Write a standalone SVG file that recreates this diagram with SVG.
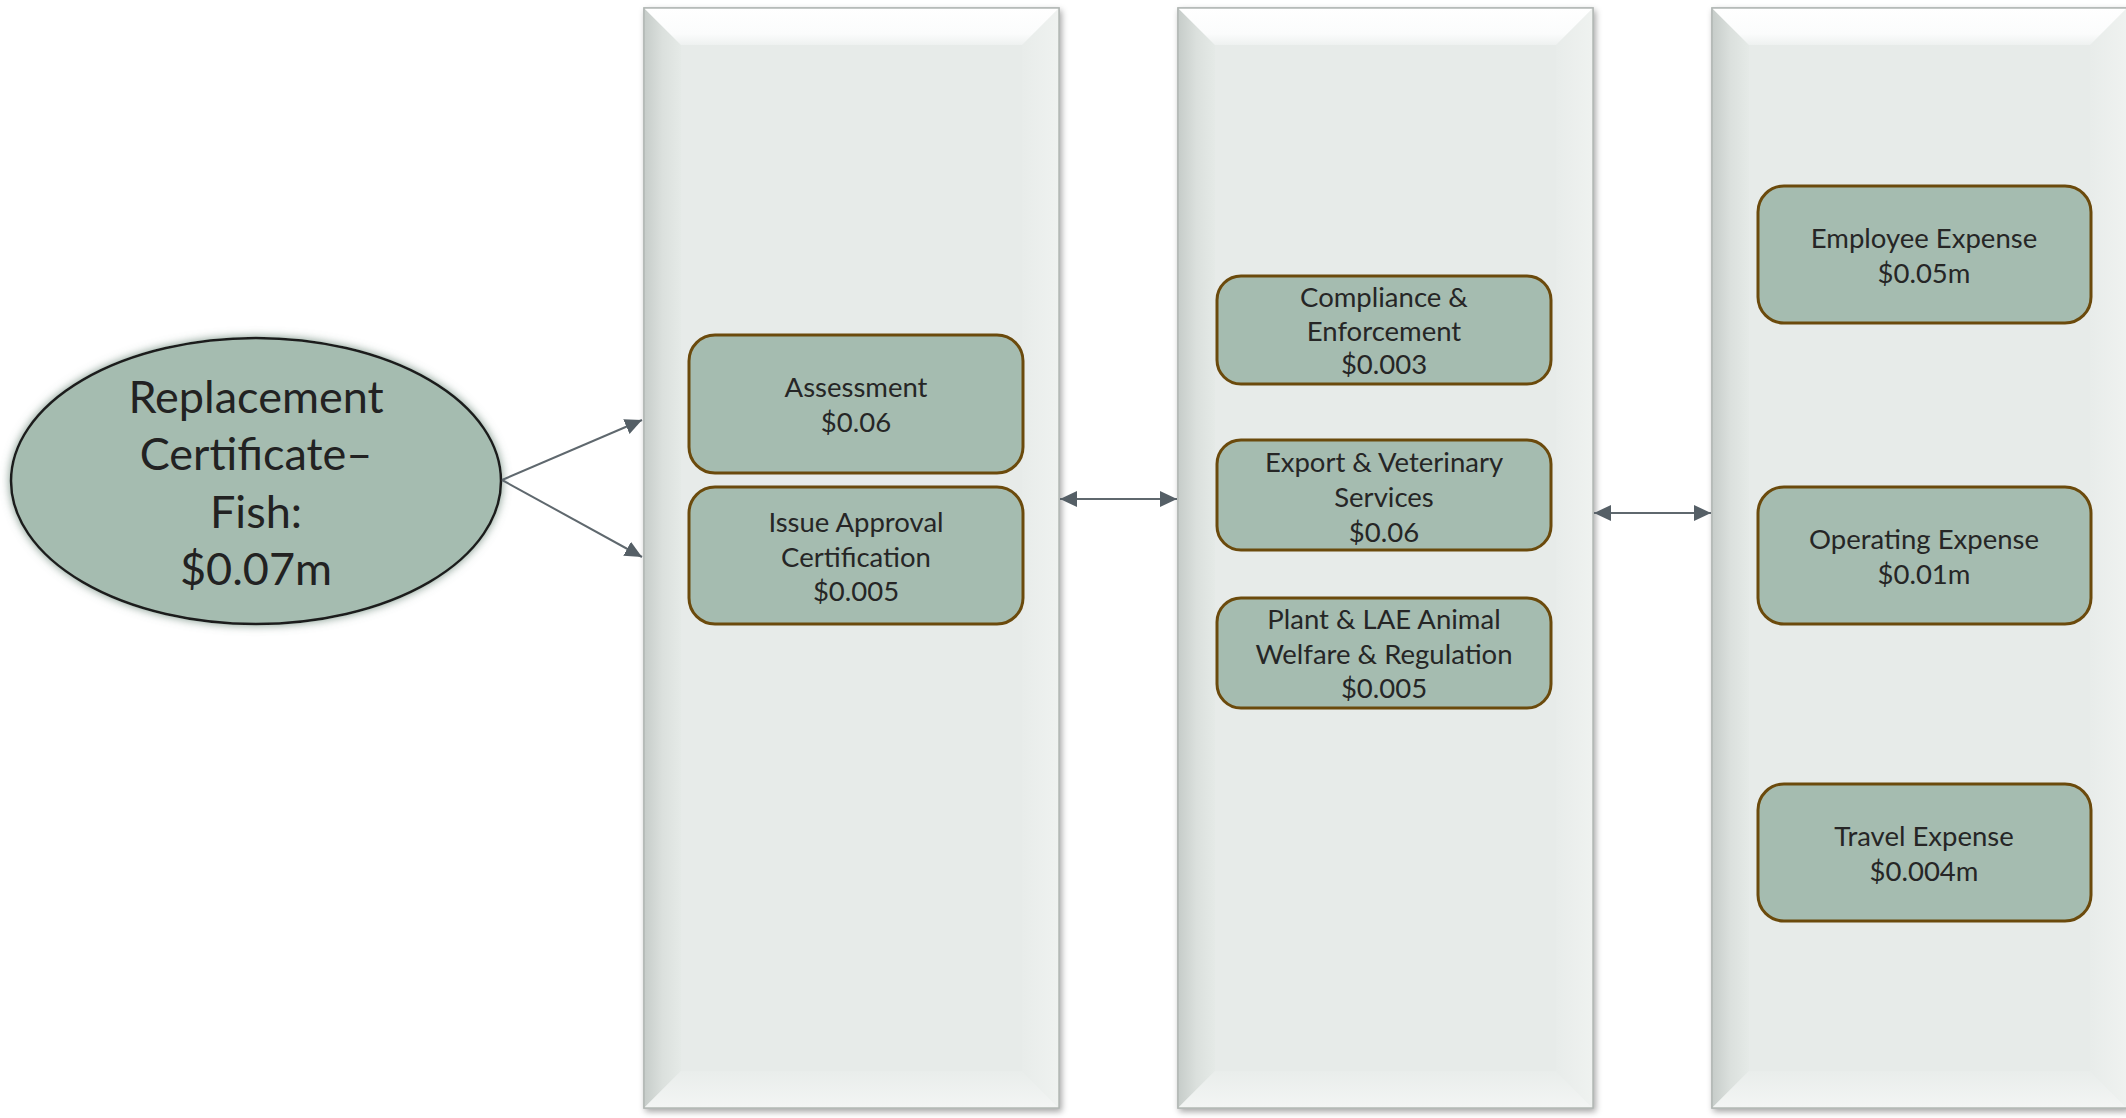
<svg xmlns="http://www.w3.org/2000/svg" width="2126" height="1118" viewBox="0 0 2126 1118">
<style>
.box{fill:#a5bcb0;stroke:#6b4a0c;stroke-width:3}
.t{font-family:Lato,"Open Sans",sans-serif;font-size:27.5px;fill:#262626;text-anchor:middle}
.big{font-family:Lato,"Open Sans",sans-serif;font-size:45px;fill:#222;text-anchor:middle}
.conn{stroke:#5f686e;stroke-width:2;fill:none}
</style>
<defs>
<marker id="ah" markerUnits="userSpaceOnUse" markerWidth="20" markerHeight="20" refX="17" refY="8" orient="auto-start-reverse">
<path d="M0,0 L17,8 L0,16 Z" fill="#555f66"/>
</marker>
<linearGradient id="gTop" x1="0" y1="0" x2="0" y2="1">
<stop offset="0" stop-color="#ffffff"/><stop offset="0.7" stop-color="#fbfcfc"/><stop offset="1" stop-color="#eef1f0"/>
</linearGradient>
<linearGradient id="gLeft" x1="0" y1="0" x2="1" y2="0">
<stop offset="0" stop-color="#c6ccc9"/><stop offset="0.5" stop-color="#dbe0dd"/><stop offset="1" stop-color="#e5eae7"/>
</linearGradient>
<linearGradient id="gRight" x1="0" y1="0" x2="1" y2="0">
<stop offset="0" stop-color="#e8ecea"/><stop offset="1" stop-color="#eff2f0"/>
</linearGradient>
<linearGradient id="gBot" x1="0" y1="0" x2="0" y2="1">
<stop offset="0" stop-color="#e9edeb"/><stop offset="1" stop-color="#f3f5f4"/>
</linearGradient>
<filter id="sh" x="-5%" y="-5%" width="110%" height="110%">
<feDropShadow dx="2" dy="3" stdDeviation="3" flood-color="#000" flood-opacity="0.35"/>
</filter>
<filter id="glow" x="-10%" y="-10%" width="120%" height="120%">
<feDropShadow dx="0" dy="0" stdDeviation="5" flood-color="#6f8a7d" flood-opacity="0.9"/>
</filter>
<g id="panel">
<rect x="0" y="0" width="415" height="1100" fill="#e7ebe9" stroke="#b3b8b5" stroke-width="1.5" filter="url(#sh)"/>
<polygon points="0,0 37,37 37,1063 0,1100" fill="url(#gLeft)"/>
<polygon points="415,0 378,37 378,1063 415,1100" fill="url(#gRight)"/>
<polygon points="0,1100 37,1063 378,1063 415,1100" fill="url(#gBot)"/>
<polygon points="0,0 415,0 378,37 37,37" fill="url(#gTop)"/>
<rect x="0" y="0" width="415" height="1100" fill="none" stroke="#b3b8b5" stroke-width="1.5"/>
</g>
</defs>
<rect width="2126" height="1118" fill="#ffffff"/>

<use id="panel1" href="#panel" x="644" y="8"/>
<use id="panel2" href="#panel" x="1178" y="8"/>
<use id="panel3" href="#panel" x="1712" y="8"/>

<g id="source">
<ellipse cx="256" cy="481" rx="245" ry="143" fill="#a5bcb0" stroke="#1e1e1e" stroke-width="2.5" filter="url(#glow)"/>
<text class="big" x="256" y="413">Replacement</text>
<text class="big" x="256" y="470">Certificate–</text>
<text class="big" x="256" y="528">Fish:</text>
<text class="big" x="256" y="585">$0.07m</text>
</g>

<g id="assessment">
<rect class="box" x="689" y="335" width="334" height="138" rx="26"/>
<text class="t" x="856" y="397">Assessment</text>
<text class="t" x="856" y="432">$0.06</text>
</g>
<g id="issue-approval">
<rect class="box" x="689" y="487" width="334" height="137" rx="26"/>
<text class="t" x="856" y="532">Issue Approval</text>
<text class="t" x="856" y="567">Certification</text>
<text class="t" x="856" y="601">$0.005</text>
</g>

<g id="compliance">
<rect class="box" x="1217" y="276" width="334" height="108" rx="24"/>
<text class="t" x="1384" y="307">Compliance &amp;</text>
<text class="t" x="1384" y="341">Enforcement</text>
<text class="t" x="1384" y="374">$0.003</text>
</g>
<g id="export">
<rect class="box" x="1217" y="440" width="334" height="110" rx="24"/>
<text class="t" x="1384" y="472">Export &amp; Veterinary</text>
<text class="t" x="1384" y="507">Services</text>
<text class="t" x="1384" y="542">$0.06</text>
</g>
<g id="plant">
<rect class="box" x="1217" y="598" width="334" height="110" rx="24"/>
<text class="t" x="1384" y="629">Plant &amp; LAE Animal</text>
<text class="t" x="1384" y="664">Welfare &amp; Regulation</text>
<text class="t" x="1384" y="698">$0.005</text>
</g>

<g id="employee">
<rect class="box" x="1758" y="186" width="333" height="137" rx="26"/>
<text class="t" x="1924" y="248">Employee Expense</text>
<text class="t" x="1924" y="283">$0.05m</text>
</g>
<g id="operating">
<rect class="box" x="1758" y="487" width="333" height="137" rx="26"/>
<text class="t" x="1924" y="549">Operating Expense</text>
<text class="t" x="1924" y="584">$0.01m</text>
</g>
<g id="travel">
<rect class="box" x="1758" y="784" width="333" height="137" rx="26"/>
<text class="t" x="1924" y="846">Travel Expense</text>
<text class="t" x="1924" y="881">$0.004m</text>
</g>

<g id="connectors">
<line class="conn" x1="502" y1="480" x2="642" y2="420" marker-end="url(#ah)"/>
<line class="conn" x1="502" y1="480" x2="642" y2="557" marker-end="url(#ah)"/>
<line class="conn" x1="1060" y1="499" x2="1177" y2="499" marker-start="url(#ah)" marker-end="url(#ah)"/>
<line class="conn" x1="1594" y1="513" x2="1711" y2="513" marker-start="url(#ah)" marker-end="url(#ah)"/>
</g>
</svg>
